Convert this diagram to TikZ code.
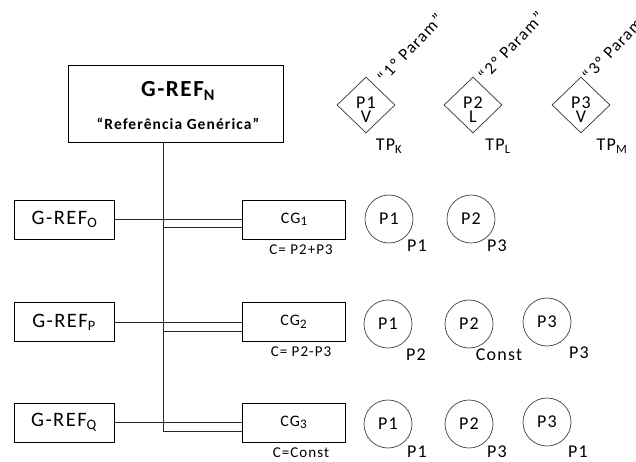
\documentclass[tikz,border=0pt]{standalone}
\usepackage{fontspec}
\setmainfont{Carlito}[LetterSpace=7]
\usetikzlibrary{shapes.geometric}
\newcommand{\lowidx}[2][2.5pt]{\raisebox{-#1}{\fontsize{13}{13}\selectfont #2}}
\begin{document}
\begin{tikzpicture}[x=1pt,y=-1pt,
  refbox/.style={draw, line width=0.8pt, minimum width=100pt, minimum height=39pt, inner sep=0pt, font=\fontsize{20.5}{22}\selectfont},
  cgbox/.style={draw, line width=0.8pt, minimum width=103pt, minimum height=39pt, inner sep=0pt, font=\fontsize{16}{18}\selectfont},
  cond/.style={font=\fontsize{15}{17}\selectfont, inner sep=0pt},
  param/.style={draw=black!75, circle, line width=0.7pt, minimum size=48pt, inner sep=0pt, font=\fontsize{18}{20}\selectfont},
  plab/.style={font=\fontsize{18}{20}\selectfont, inner sep=0pt},
  tpar/.style={draw=black!80, diamond, line width=0.7pt, minimum width=58pt, minimum height=56pt, inner sep=0pt},
  tptext/.style={align=center, inner sep=0pt, font=\fontsize{18}{14}\selectfont},
  ordlab/.style={rotate=47, font=\fontsize{17}{19}\selectfont, inner sep=0pt},
  link/.style={line width=0.8pt, draw=black!85}]
\useasboundingbox (0,0) rectangle (636,462);

% generic reference
\node[draw, line width=1pt, minimum width=215pt, minimum height=77pt, inner sep=0pt] (N) at (175.5,104.5) {};
\node[font=\fontsize{23}{25}\bfseries\selectfont, inner sep=0pt] (Nt) at (178,91) {G-REF\textsubscript{N}};
\node[font=\fontsize{15.5}{18}\bfseries\selectfont, inner sep=0pt] (Ns) at (178,124) {“Referência Genérica”};

% parameter types
\node[tpar] (T1) at (366,105) {};
\node[tpar] (T2) at (473,105) {};
\node[tpar] (T3) at (581,105) {};
\node[tptext] (T1t) at (T1.center) [yshift=-5pt] {P1\\V};
\node[tptext] (T2t) at (T2.center) [yshift=-5pt] {P2\\L};
\node[tptext] (T3t) at (T3.center) [yshift=-5pt] {P3\\V};
\node[plab] (TK) at (389,146) {TP\textsubscript{K}};
\node[plab] (TL) at (498,146) {TP\textsubscript{L}};
\node[plab] (TM) at (612,146) {TP\textsubscript{M}};
\node[ordlab] (O1) at (410,48) {“1º Param”};
\node[ordlab] (O2) at (511,46) {“2º Param”};
\node[ordlab] (O3) at (615,46) {“3º Param”};

% specific references
\node[refbox] (RO) at (64.5,219.5) {G-REF\textsubscript{O}};
\node[refbox] (RP) at (64,322) {G-REF\textsubscript{P}};
\node[refbox] (RQ) at (64,422.5) {G-REF\textsubscript{Q}};

% generic compositions
\node[cgbox] (C1) at (294,219.5) {CG\lowidx{1}};
\node[cgbox] (C2) at (293.5,322) {CG\lowidx{2}};
\node[cgbox] (C3) at (293.5,422.5) {CG\lowidx{3}};
\node[cond] (K1) at (301,250) {C= P2+P3};
\node[cond] (K2) at (301,352) {C= P2-P3};
\node[cond] (K3) at (301,453) {C=Const};

% trunk and branches
\coordinate (J1) at (163,227);
\coordinate (J2) at (163,331);
\coordinate (J3) at (163,431);
\draw[link] (N.south -| J3) -- (J3);
\draw[link] (RO.east) -- (RO.east -| C1.west);
\draw[link] (J1) -- (J1 -| C1.west);
\draw[link] (RP.east) -- (RP.east -| C2.west);
\draw[link] (J2) -- (J2 -| C2.west);
\draw[link] (RQ.east) -- (RQ.east -| C3.west);
\draw[link] (J3) -- (J3 -| C3.west);

% parameters, row 1
\node[param] (A1) at (389,219) {P1};
\node[param] (A2) at (471,219) {P2};
\node[plab] (a1) at (417,246) {P1};
\node[plab] (a2) at (497,246) {P3};

% parameters, row 2
\node[param] (B1) at (388,324) {P1};
\node[param] (B2) at (469,324) {P2};
\node[param] (B3) at (547,322) {P3};
\node[plab] (b1) at (416,355) {P2};
\node[plab] (b2) at (499,355) {Const};
\node[plab] (b3) at (579,353) {P3};

% parameters, row 3
\node[param] (D1) at (388,424) {P1};
\node[param] (D2) at (469,424) {P2};
\node[param] (D3) at (547,422) {P3};
\node[plab] (d1) at (417,452) {P1};
\node[plab] (d2) at (497,452) {P3};
\node[plab] (d3) at (578,452) {P1};
\end{tikzpicture}
\end{document}
